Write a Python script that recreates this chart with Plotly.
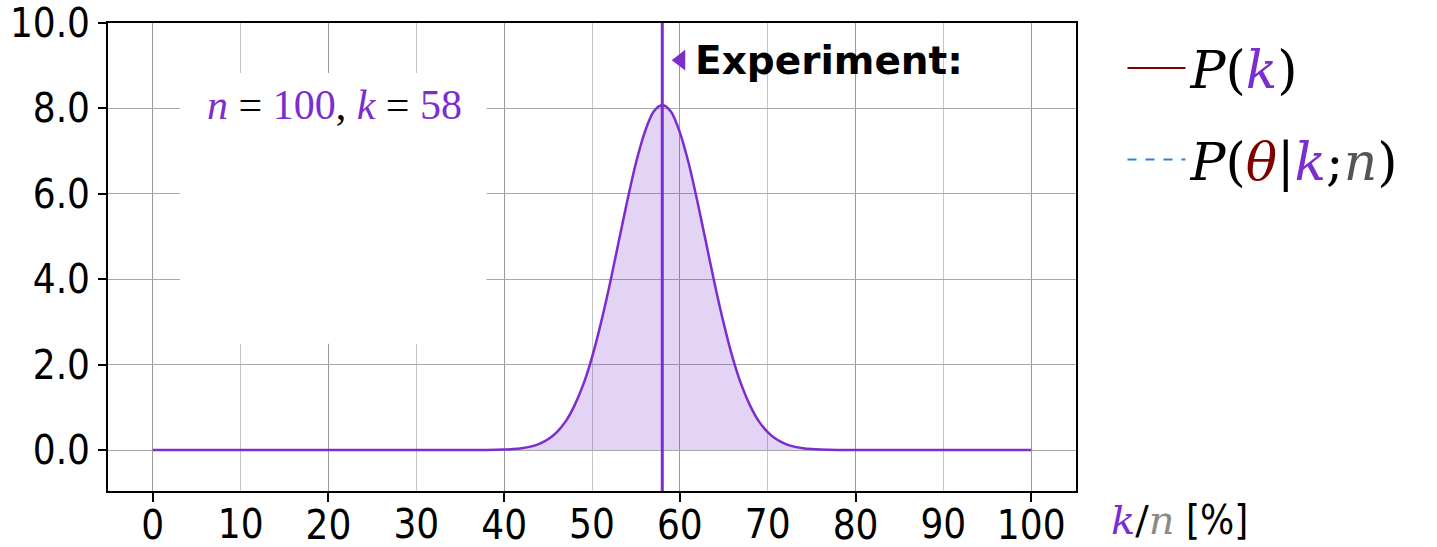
import plotly.graph_objects as go

# ---- data ----
n_trials = 100
k_success = 58

theta_pct = [0, 10, 20, 30, 35, 38, 40, 41, 42, 43, 44, 45, 46, 47, 48, 49, 50,
             51, 52, 53, 54, 55, 56, 57, 58, 59, 60, 61, 62, 63, 64, 65, 66, 67,
             68, 69, 70, 71, 72, 73, 74, 75, 76, 78, 80, 85, 90, 100]
density = [0.0, 0.0, 0.0, 0.0, 0.0, 0.002, 0.010, 0.021, 0.042, 0.080, 0.145,
           0.25, 0.42, 0.67, 1.04, 1.53, 2.17, 2.96, 3.86, 4.84, 5.82, 6.72,
           7.44, 7.92, 8.08, 7.92, 7.44, 6.72, 5.82, 4.84, 3.86, 2.96, 2.17,
           1.53, 1.04, 0.67, 0.42, 0.25, 0.145, 0.080, 0.042, 0.021, 0.010,
           0.002, 0.0, 0.0, 0.0, 0.0]

x_major_ticks = [0, 20, 40, 60, 80, 100]
x_minor_ticks = [10, 30, 50, 70, 90]
y_ticks = [0, 2, 4, 6, 8, 10]

PURPLE = "#7B2DCF"
FILL = "rgba(123,45,207,0.21)"
DARKRED = "#800000"
BLUE = "#3C7BD6"
TICKFONT = dict(family="Liberation Sans Narrow, DejaVu Sans Condensed, Roboto", size=40, color="black")
SERIF = "Liberation Serif, DejaVu Serif, serif"

fig = go.Figure()

# posterior curve
fig.add_trace(go.Scatter(
    x=theta_pct, y=density, mode="lines", line=dict(color=PURPLE, width=2.5, shape="spline", smoothing=0.8),
    fill="tozeroy", fillcolor=FILL, showlegend=False, hoverinfo="skip"))

# triangle marker of the "Experiment:" label
fig.add_trace(go.Scatter(
    x=[60.1], y=[9.13], mode="markers",
    marker=dict(symbol="triangle-left", size=18, color=PURPLE),
    showlegend=False, hoverinfo="skip"))

# legend-only entries
fig.add_trace(go.Scatter(
    x=[None], y=[None], mode="lines", line=dict(color=DARKRED, width=2),
    name="<i>P</i>(<span style='color:%s'><i>k</i></span>)" % PURPLE, legendgroup="a"))
fig.add_trace(go.Scatter(
    x=[None], y=[None], mode="lines", line=dict(color=BLUE, width=2, dash="dash"),
    name=("<i>P</i>(<span style='color:%s'><i>θ</i></span>|<span style='color:%s'><i>k</i></span>;"
          "<span style='color:#555555'><i>n</i></span>)") % (DARKRED, PURPLE), legendgroup="b"))

# overlay axis carrying the odd-decade labels (no tick marks)
fig.add_trace(go.Scatter(x=[None], y=[None], xaxis="x2", showlegend=False, hoverinfo="skip"))

xr = [-5.1, 105.1]
fig.update_layout(
    width=1437, height=547,
    margin=dict(l=108, r=361, t=23, b=56),
    plot_bgcolor="white", paper_bgcolor="white",
    xaxis=dict(
        range=xr, tickvals=x_major_ticks, ticktext=[str(v) for v in x_major_ticks],
        ticks="outside", ticklen=9, tickwidth=2, tickcolor="black", ticklabelstandoff=-11,
        showgrid=True, gridcolor="#9a9a9a", gridwidth=1.3,
        minor=dict(tickvals=x_minor_ticks, showgrid=True, gridcolor="#c4c4c4", gridwidth=1.3, ticks=""),
        showline=True, linecolor="black", linewidth=2, mirror=True, automargin=False,
        zeroline=False, tickfont=TICKFONT),
    xaxis2=dict(
        range=xr, overlaying="x", anchor="y", side="bottom", automargin=False,
        tickvals=x_minor_ticks, ticktext=[str(v) for v in x_minor_ticks],
        ticks="outside", ticklen=9, tickcolor="rgba(0,0,0,0)", ticklabelstandoff=-11,
        showgrid=False, zeroline=False, showline=False, tickfont=TICKFONT),
    yaxis=dict(
        range=[-0.96, 10.0], tickvals=y_ticks, ticktext=["%.1f" % v for v in y_ticks],
        ticks="outside", ticklen=8, tickwidth=2, tickcolor="black",
        showgrid=True, gridcolor="#a8a8a8", gridwidth=1.3, automargin=False,
        showline=True, linecolor="black", linewidth=2, mirror=True,
        zeroline=False, tickfont=TICKFONT),
    legend=dict(
        x=1.048, y=0.99, xanchor="left", yanchor="top",
        font=dict(family="DejaVu Serif, serif", size=52, color="black"),
        itemwidth=58, tracegroupgap=21, bgcolor="rgba(0,0,0,0)"),
    showlegend=True,
)

# white box behind the n, k label (hides grid)
fig.add_shape(type="rect", xref="x", yref="y", x0=3.1, x1=38.0, y0=2.49, y1=8.83,
              fillcolor="white", line=dict(width=0), layer="between")

# observed experiment line
fig.add_shape(type="line", xref="x", yref="paper",
              x0=100 * k_success / n_trials, x1=100 * k_success / n_trials, y0=0, y1=1,
              line=dict(color=PURPLE, width=3), layer="above")

fig.add_annotation(
    x=20.7, y=8.07, xref="x", yref="y", showarrow=False,
    text=("<span style='color:%s'><i>n</i></span> = <span style='color:%s'>%d</span>, "
          "<span style='color:%s'><i>k</i></span> = <span style='color:%s'>%d</span>"
          % (PURPLE, PURPLE, n_trials, PURPLE, PURPLE, k_success)),
    font=dict(family=SERIF, size=42, color="black"))

fig.add_annotation(
    x=61.5, y=9.13, xref="x", yref="y", showarrow=False, xanchor="left",
    text="<b>Experiment:</b>", font=dict(family="DejaVu Sans, sans-serif", size=39, color="black"))

# axis title at the right end of the x axis
fig.add_annotation(
    x=1.034, y=-0.061, xref="paper", yref="paper", xanchor="left", yanchor="middle", showarrow=False,
    text=("<span style='font-family:DejaVu Serif;color:%s'><i>k</i></span>"
          "<span style='font-family:DejaVu Serif'>/</span>"
          "<span style='font-family:DejaVu Serif;color:#8a8a8a'><i>n</i></span> [%%]") % PURPLE,
    font=dict(family="Liberation Sans Narrow, DejaVu Sans Condensed, Roboto", size=40, color="black"))

fig.write_html("out.html", config={"displayModeBar": False},
               post_script="document.body.style.margin='0';")
